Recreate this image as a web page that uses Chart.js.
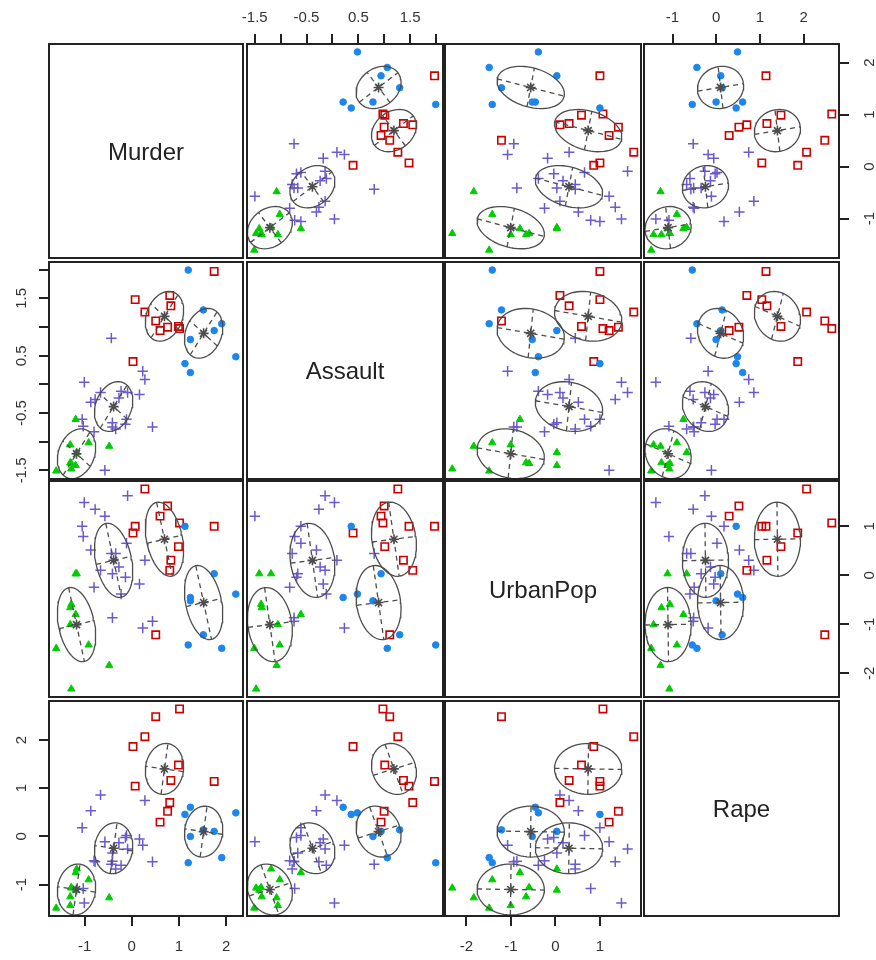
<!DOCTYPE html>
<html>
<head>
<meta charset="utf-8">
<script src="https://cdn.jsdelivr.net/npm/chart.js@4.4.1/dist/chart.umd.min.js"></script>
<style>
html, body { margin: 0; padding: 0; background: #ffffff; overflow: hidden; width: 876px; height: 960px; }
#wrap { position: relative; width: 876px; height: 960px; overflow: hidden; }
#wrap canvas { position: absolute; }
</style>
</head>
<body>
<div id="wrap"></div>
<script>
// ---------------- DATA (standardised USArrests) ----------------
const variableNames = ['Murder', 'Assault', 'UrbanPop', 'Rape'];
const states = ['Alabama','Alaska','Arizona','Arkansas','California','Colorado','Connecticut','Delaware','Florida','Georgia',
  'Hawaii','Idaho','Illinois','Indiana','Iowa','Kansas','Kentucky','Louisiana','Maine','Maryland',
  'Massachusetts','Michigan','Minnesota','Mississippi','Missouri','Montana','Nebraska','Nevada','New Hampshire','New Jersey',
  'New Mexico','New York','North Carolina','North Dakota','Ohio','Oklahoma','Oregon','Pennsylvania','Rhode Island','South Carolina',
  'South Dakota','Tennessee','Texas','Utah','Vermont','Virginia','Washington','West Virginia','Wisconsin','Wyoming'];
const murder = [1.243,0.508,0.072,0.232,0.278,0.026,-1.030,-0.434,1.748,2.207,
  -0.571,-1.191,0.600,-0.135,-1.283,-0.411,0.439,1.748,-1.306,0.806,
  -0.778,0.990,-1.168,1.908,0.278,-0.411,-0.801,1.013,-1.306,-0.089,
  0.829,0.760,1.197,-1.604,-0.112,-0.273,-0.663,-0.342,-1.008,1.518,
  -0.916,1.243,1.128,-1.053,-1.283,0.163,-0.870,-0.479,-1.191,-0.227];
const assault = [0.783,1.107,1.479,0.231,1.263,0.399,-0.729,0.807,1.971,0.483,
  -1.497,-0.609,0.939,-0.693,-1.377,-0.669,-0.741,0.939,-1.053,1.551,
  -0.261,1.011,-1.185,1.059,0.087,-0.741,-0.825,0.975,-1.365,-0.141,
  1.371,0.999,1.995,-1.509,-0.609,-0.237,-0.141,-0.777,0.039,1.299,
  -1.017,0.207,0.363,-0.609,-1.473,-0.177,-0.309,-1.077,-1.413,-0.117];
const urbanPop = [-0.521,-1.212,0.999,-1.074,1.759,0.861,0.792,0.446,0.999,-0.383,
  1.206,-0.797,1.206,-0.037,-0.590,0.032,-0.935,0.032,-1.005,0.101,
  1.344,0.585,0.032,-1.488,0.308,-0.866,-0.245,1.068,-0.659,1.621,
  0.308,1.414,-1.419,-1.488,0.654,0.170,0.101,0.446,1.483,-1.212,
  -1.419,-0.452,0.999,0.999,-2.317,-0.176,0.515,-1.834,0.032,-0.383];
const rape = [-0.003,2.484,1.043,-0.185,2.068,1.865,-1.082,-0.580,1.139,0.488,
  -0.110,-0.751,0.296,-0.025,-1.060,-0.345,-0.527,0.103,-1.434,0.701,
  -0.527,1.481,-0.676,-0.441,0.744,-0.516,-0.505,2.644,-1.253,-0.260,
  1.160,0.520,-0.548,-1.487,0.018,-0.132,0.861,-0.676,-1.381,0.135,
  -0.900,0.605,0.456,0.178,-1.071,-0.057,0.530,-1.274,-1.114,-0.601];
// cluster of each state: 0 = blue circle, 1 = red square, 2 = green triangle, 3 = slateblue plus
const cluster = [0,1,1,3,1,1,3,3,1,0,
  3,2,1,3,2,3,3,0,2,1,
  3,1,2,0,3,3,3,1,2,3,
  1,1,0,2,3,3,3,3,3,0,
  2,0,0,3,2,3,3,2,2,3];

const murderTicks = [-1, 0, 1, 2];
const murderTickLabels = ['-1', '0', '1', '2'];
const assaultTicks = [-1.5, -1, -0.5, 0, 0.5, 1, 1.5, 2];
const assaultTickLabels = ['-1.5', '', '-0.5', '', '0.5', '', '1.5', ''];
const urbanPopTicks = [-2, -1, 0, 1];
const urbanPopTickLabels = ['-2', '-1', '0', '1'];
const rapeTicks = [-1, 0, 1, 2];
const rapeTickLabels = ['-1', '0', '1', '2'];

// ---------------- LAYOUT & STYLE ----------------
const colSpan = [[49, 243], [247, 443], [445, 641], [644, 839]];
const rowSpan = [[44, 258], [262, 479], [481, 697], [701, 916]];
const M = 50, TL = 10;
const FAMILY = "'Liberation Sans', Arial, sans-serif";
const tickFont = { family: FAMILY, size: 15 };
const labelFontStr = "24px " + FAMILY;
const INK = '#222222', GREY30 = '#4D4D4D';
const clusterStyle = [
  { color: '#1C86EE', pointStyle: 'circle',   radius: 3.3, fill: true,  bw: 1 },
  { color: '#CD0000', pointStyle: 'rect',     radius: 5.2, fill: false, bw: 1.6 },
  { color: '#00CD00', pointStyle: 'triangle', radius: 4.2, fill: true,  bw: 1 },
  { color: '#6A5ACD', pointStyle: 'cross',    radius: 5.2, fill: false, bw: 1.5 }
];
// which outer axes each panel carries (row,col)
const axisPlan = {
  '0,1': { top: true }, '0,3': { top: true, right: true },
  '1,0': { left: true }, '2,3': { right: true },
  '3,0': { left: true, bottom: true }, '3,2': { bottom: true }
};
const labelTargets = { left: 22, right: 870, top: 18.3, bottom: 946.7 };

// ---------------- DERIVED ----------------
const vars = [murder, assault, urbanPop, rape];
const tickValues = [murderTicks, assaultTicks, urbanPopTicks, rapeTicks];
const tickTexts = [murderTickLabels, assaultTickLabels, urbanPopTickLabels, rapeTickLabels];
const ranges = vars.map(v => {
  const lo = Math.min(...v), hi = Math.max(...v), e = 0.04 * (hi - lo);
  return [lo - e, hi + e];
});
const K = 4, N = murder.length;
const means = [];
for (let k = 0; k < K; k++) {
  const idx = cluster.map((c, i) => c === k ? i : -1).filter(i => i >= 0);
  means.push(vars.map(v => idx.reduce((s, i) => s + v[i], 0) / idx.length));
}
// pooled (common) within-cluster covariance
const cov = [0,1,2,3].map(() => [0,0,0,0]);
for (let i = 0; i < N; i++) {
  const m = means[cluster[i]];
  for (let a = 0; a < 4; a++) for (let b = 0; b < 4; b++)
    cov[a][b] += (vars[a][i] - m[a]) * (vars[b][i] - m[b]) / N;
}
function ellipse(k, vx, vy) {
  const mx = means[k][vx], my = means[k][vy];
  const a = cov[vx][vx], d = cov[vy][vy], b = cov[vx][vy];
  const tr = (a + d) / 2, df = Math.sqrt(((a - d) / 2) ** 2 + b * b);
  const s1 = Math.sqrt(tr + df), s2 = Math.sqrt(Math.max(tr - df, 0));
  const th = 0.5 * Math.atan2(2 * b, a - d), c = Math.cos(th), s = Math.sin(th);
  const pts = [];
  for (let t = 0; t <= 64; t++) {
    const g = t / 64 * 2 * Math.PI, u = s1 * Math.cos(g), w = s2 * Math.sin(g);
    pts.push({ x: mx + u * c - w * s, y: my + u * s + w * c });
  }
  return {
    pts,
    major: [{ x: mx - s1 * c, y: my - s1 * s }, { x: mx + s1 * c, y: my + s1 * s }],
    minor: [{ x: mx + s2 * s, y: my - s2 * c }, { x: mx - s2 * s, y: my + s2 * c }],
    center: { x: mx, y: my }
  };
}
const mctx = document.createElement('canvas').getContext('2d');
mctx.font = '15px ' + FAMILY;
function widest(v) { return Math.max(...tickTexts[v].map(t => mctx.measureText(t).width)); }

function makeAxis(v, pos, shown, pad) {
  const horizontal = pos === 'top' || pos === 'bottom';
  return {
    type: 'linear', position: pos, display: shown, bounds: 'data',
    min: ranges[v][0], max: ranges[v][1],
    afterBuildTicks: s => { s.ticks = tickValues[v].map(t => ({ value: t })); },
    afterFit: s => { if (!shown) return; if (horizontal) s.height = M; else s.width = M; },
    grid: { display: true, drawOnChartArea: false, drawTicks: true, tickLength: TL,
            tickWidth: 2, tickColor: INK, color: INK, lineWidth: 2 },
    border: { display: false },
    ticks: {
      display: true, autoSkip: false, padding: pad, font: tickFont, color: '#333333',
      minRotation: horizontal ? 0 : 90, maxRotation: horizontal ? 0 : 90,
      crossAlign: horizontal ? 'near' : 'center',
      callback: (val, i) => tickTexts[v][i]
    }
  };
}

const panelPlugin = {
  id: 'panelBox',
  afterDraw(chart, args, opts) {
    const { ctx, chartArea: a } = chart;
    ctx.save();
    ctx.strokeStyle = INK; ctx.lineWidth = 2;
    ctx.strokeRect(a.left, a.top, a.right - a.left, a.bottom - a.top);
    if (opts.label) {
      ctx.fillStyle = INK; ctx.font = labelFontStr;
      ctx.textAlign = 'center'; ctx.textBaseline = 'middle';
      ctx.fillText(opts.label, (a.left + a.right) / 2, (a.top + a.bottom) / 2 + 2);
    }
    ctx.restore();
  }
};

const wrap = document.getElementById('wrap');
for (let r = 0; r < 4; r++) {
  for (let c = 0; c < 4; c++) {
    const [x0, x1] = colSpan[c], [y0, y1] = rowSpan[r];
    const cv = document.createElement('canvas');
    cv.width = x1 - x0 + 2 * M; cv.height = y1 - y0 + 2 * M;
    cv.style.left = (x0 - M) + 'px'; cv.style.top = (y0 - M) + 'px';
    wrap.appendChild(cv);
    const plan = axisPlan[r + ',' + c] || {};
    const vx = c, vy = r;
    const xPos = plan.top ? 'top' : 'bottom';
    const yPos = plan.right ? 'right' : 'left';
    let xPad = 0, yPad = 0;
    if (plan.top) xPad = y0 - TL - 9 - labelTargets.top;
    if (plan.bottom) xPad = labelTargets.bottom - y1 - TL - 9;
    if (plan.left) yPad = x0 - TL - widest(vy) / 2 - labelTargets.left;
    if (plan.right) yPad = labelTargets.right - x1 - TL - widest(vy) / 2;
    const datasets = [];
    if (r !== c) {
      for (let k = 0; k < K; k++) {
        const st = clusterStyle[k];
        const pts = [];
        for (let i = 0; i < N; i++) if (cluster[i] === k) pts.push({ x: vars[vx][i], y: vars[vy][i] });
        datasets.push({
          data: pts, order: 5, pointStyle: st.pointStyle, pointRadius: st.radius,
          pointBorderColor: st.color, pointBackgroundColor: st.fill ? st.color : 'rgba(0,0,0,0)',
          pointBorderWidth: st.bw, showLine: false
        });
      }
      for (let k = 0; k < K; k++) {
        const e = ellipse(k, vx, vy);
        datasets.push({ data: e.pts, order: 3, showLine: true, pointRadius: 0, borderColor: GREY30,
          borderWidth: 1.3, fill: false, tension: 0, clip: 0 });
        datasets.push({ data: e.major, order: 3, showLine: true, pointRadius: 0, borderColor: GREY30,
          borderWidth: 1.3, borderDash: [5, 4], fill: false, clip: 0 });
        datasets.push({ data: e.minor, order: 3, showLine: true, pointRadius: 0, borderColor: GREY30,
          borderWidth: 1.3, borderDash: [5, 4], fill: false, clip: 0 });
        datasets.push({ data: [e.center], order: 1, showLine: false, pointStyle: 'star', pointRadius: 5,
          pointBorderColor: GREY30, pointBackgroundColor: GREY30, pointBorderWidth: 1.6 });
      }
    }
    new Chart(cv, {
      type: 'scatter',
      data: { datasets },
      options: {
        responsive: false, animation: false, devicePixelRatio: 1, events: [],
        layout: { autoPadding: false, padding: {
          left: plan.left ? 0 : M, right: plan.right ? 0 : M,
          top: plan.top ? 0 : M, bottom: plan.bottom ? 0 : M } },
        plugins: { legend: { display: false }, tooltip: { enabled: false }, title: { display: false },
          panelBox: { label: r === c ? variableNames[r] : '' } },
        scales: {
          x: makeAxis(vx, xPos, !!(plan.top || plan.bottom), xPad),
          y: makeAxis(vy, yPos, !!(plan.left || plan.right), yPad)
        }
      },
      plugins: [panelPlugin]
    });
  }
}
</script>
</body>
</html>
